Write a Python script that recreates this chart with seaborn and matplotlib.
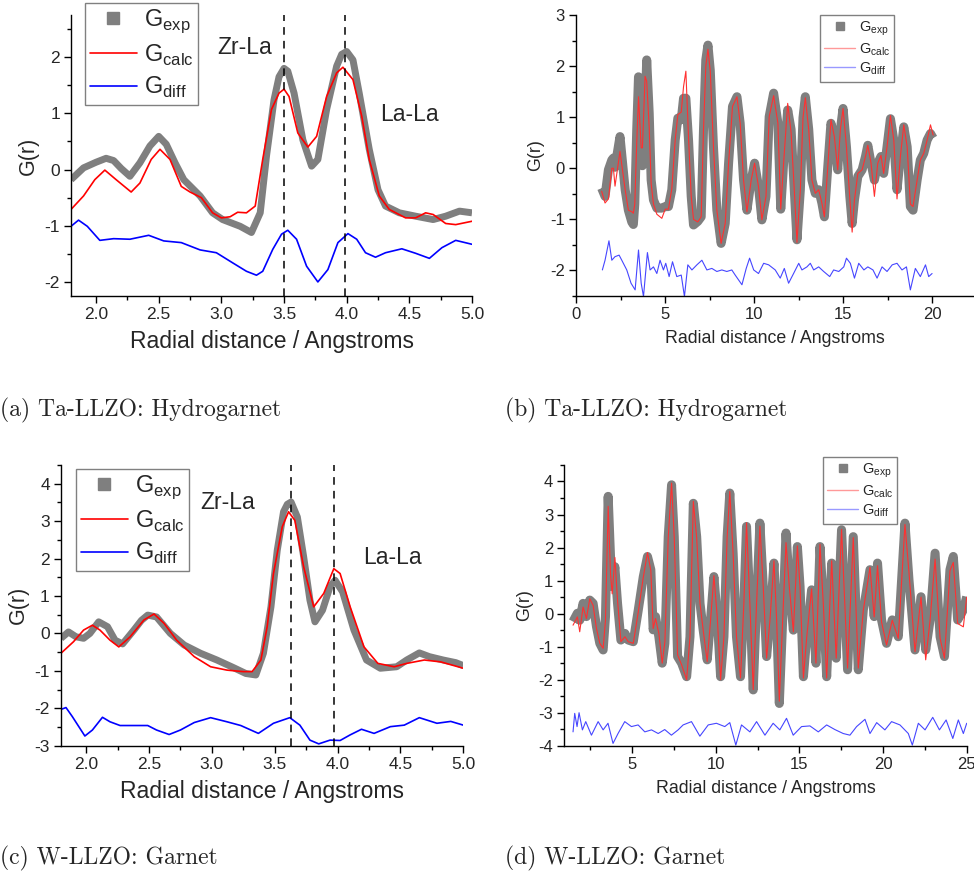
import numpy as np
import pandas as pd
import matplotlib
matplotlib.use("Agg")
import matplotlib.pyplot as plt
from matplotlib.lines import Line2D
from matplotlib.ticker import MultipleLocator
import seaborn as sns

# ---- panel (a): Ta-LLZO hydrogarnet, short range ----
a_exp_r = [1.80, 1.90, 2.00, 2.08, 2.14, 2.20, 2.27, 2.35, 2.43, 2.50, 2.56, 2.63, 2.70, 2.83, 2.93,
           3.01, 3.15, 3.24, 3.31, 3.36, 3.42, 3.46, 3.50, 3.53, 3.58, 3.65, 3.72, 3.77, 3.84, 3.92,
           3.96, 4.00, 4.05, 4.10, 4.18, 4.25, 4.31, 4.42, 4.55, 4.69, 4.79, 4.90, 5.00]
a_exp_g = [-0.18, 0.03, 0.13, 0.20, 0.16, 0.02, -0.12, 0.12, 0.42, 0.59, 0.45, 0.12, -0.18, -0.47, -0.77,
           -0.89, -1.01, -1.12, -0.77, 0.24, 1.24, 1.65, 1.80, 1.75, 1.36, 0.53, 0.06, 0.18, 1.07, 1.84,
           2.05, 2.10, 1.95, 1.36, 0.36, -0.36, -0.65, -0.77, -0.83, -0.89, -0.83, -0.74, -0.77]
a_calc_r = [1.80, 1.90, 1.99, 2.07, 2.16, 2.28, 2.35, 2.44, 2.51, 2.59, 2.68, 2.75, 2.84, 2.93,
            3.00, 3.07, 3.13, 3.20, 3.27, 3.33, 3.40, 3.46, 3.50, 3.54, 3.61, 3.69, 3.76, 3.84,
            3.92, 3.97, 4.05, 4.12, 4.18, 4.26, 4.34, 4.47, 4.55, 4.63, 4.69, 4.79, 4.87, 5.00]
a_calc_g = [-0.71, -0.47, -0.18, -0.01, -0.18, -0.40, -0.24, 0.18, 0.36, 0.18, -0.30, -0.40, -0.50, -0.77,
            -0.86, -0.84, -0.76, -0.77, -0.65, 0.18, 1.07, 1.36, 1.43, 1.30, 0.65, 0.40, 0.59, 1.30,
            1.72, 1.82, 1.60, 0.95, 0.18, -0.47, -0.71, -0.86, -0.86, -0.77, -0.80, -0.96, -0.98, -0.92]
a_diff_r = [1.80, 1.86, 1.93, 2.03, 2.14, 2.27, 2.42, 2.54, 2.68, 2.83, 2.96, 3.09, 3.20, 3.28,
            3.33, 3.41, 3.48, 3.53, 3.60, 3.68, 3.77, 3.85, 3.93, 4.01, 4.08, 4.15, 4.23, 4.31,
            4.44, 4.55, 4.66, 4.76, 4.87, 5.00]
a_diff_g = [-1.01, -0.90, -1.01, -1.26, -1.23, -1.24, -1.17, -1.27, -1.30, -1.43, -1.48, -1.66, -1.81, -1.88,
            -1.81, -1.42, -1.15, -1.08, -1.24, -1.72, -2.00, -1.78, -1.30, -1.14, -1.24, -1.48, -1.56, -1.48,
            -1.41, -1.49, -1.58, -1.39, -1.26, -1.33]

# ---- panel (b): Ta-LLZO hydrogarnet, full range (exp and calc share r) ----
b_r = [1.44, 1.63, 1.82, 2.01, 2.10, 2.19, 2.47, 2.76, 2.94, 3.13, 3.22, 3.30, 3.41, 3.51, 3.66, 3.73,
       3.88, 3.97, 4.11, 4.22, 4.35, 4.54, 4.82, 5.01, 5.19, 5.38, 5.57, 5.72, 5.91, 6.04, 6.17,
       6.32, 6.47, 6.60, 6.84, 7.03, 7.16, 7.29, 7.41, 7.54, 7.72, 7.91, 8.15, 8.38, 8.57, 8.79,
       9.04, 9.22, 9.41, 9.60, 9.84, 10.03, 10.25, 10.44, 10.67, 10.85, 11.10, 11.34, 11.50,
       11.66, 11.89, 12.08, 12.26, 12.41, 12.60, 12.75, 12.88, 13.07, 13.25, 13.44, 13.63, 13.81,
       13.95, 14.13, 14.32, 14.51, 14.70, 14.85, 15.00, 15.19, 15.38, 15.51, 15.64, 15.83, 16.07,
       16.26, 16.39, 16.57, 16.76, 16.95, 17.13, 17.28, 17.47, 17.66, 17.85, 18.03, 18.22, 18.41,
       18.60, 18.78, 18.93, 19.16, 19.34, 19.53, 19.72, 19.91, 20.06]
b_exp = [-0.39, -0.55, -0.03, 0.16, 0.20, 0.02, 0.62, -0.42, -0.82, -1.05, -1.10, -0.70, 0.75, 1.79, 0.88, 0.05,
         1.08, 2.12, 1.08, -0.23, -0.62, -0.78, -0.78, -0.75, -0.75, -0.42, 0.55, 0.98, 0.95, 1.37, 1.37,
         0.55, -0.55, -1.11, -1.04, -0.95, 0.75, 2.12, 2.41, 1.92, 0.42, -0.82, -1.47, -1.08, 0.10, 1.21,
         1.40, 0.88, -0.23, -0.82, -0.23, 0.10, -0.36, -1.01, -0.55, 1.01, 1.47, 0.88, -0.80,
         0.10, 1.14, 0.76, -0.42, -1.40, -0.42, 0.99, 1.40, 0.76, -0.23, -0.49, -0.42, -0.68,
         -0.95, -0.03, 0.88, 0.62, -0.03, 0.76, 1.17, 0.42, -0.55, -1.08, -0.62, -0.16, -0.03,
         0.23, 0.45, 0.10, -0.23, 0.10, 0.23, -0.10, 0.42, 0.97, 0.55, -0.42, 0.23, 0.81,
         0.42, -0.75, -0.82, -0.23, 0.16, 0.29, 0.55, 0.68, 0.59]
b_calc = [-0.45, -0.68, -0.60, 0.00, 0.00, -0.35, 0.33, -0.42, -0.82, -0.85, -0.88, -0.70, 0.50, 1.40, 0.40, 0.40,
          1.80, 1.70, 0.80, -0.30, -0.70, -0.90, -0.98, -0.80, -0.80, -0.40, 0.55, 1.05, 1.10, 1.60, 1.90,
          0.60, -0.55, -1.00, -1.05, -0.95, 0.75, 2.00, 2.33, 1.90, 0.42, -0.82, -1.47, -1.08, 0.10, 1.21,
          1.40, 0.88, -0.23, -0.85, -0.23, 0.10, -0.36, -1.01, -0.55, 1.01, 1.42, 0.88, -0.80,
          0.10, 1.27, 0.70, -0.42, -1.45, -0.42, 0.99, 1.38, 0.76, -0.23, -0.49, -0.42, -0.68,
          -0.95, -0.03, 0.95, 0.62, -0.03, 0.76, 1.17, 0.42, -0.60, -1.25, -0.62, -0.10, -0.03,
          0.23, 0.45, 0.10, -0.55, 0.10, 0.25, -0.10, 0.42, 1.03, 0.55, -0.60, 0.23, 0.85,
          0.42, -0.70, -0.75, -0.23, 0.16, 0.29, 0.55, 0.85, 0.65]
b_diff_r = [1.48, 1.63, 1.85, 2.01, 2.19, 2.42, 2.57, 2.85, 3.09, 3.32, 3.51, 3.66, 3.79, 4.01, 4.16,
            4.35, 4.54, 4.72, 4.91, 5.04, 5.23, 5.42, 5.66, 5.91, 6.09, 6.28, 6.51, 6.79, 7.07, 7.35,
            7.63, 7.91, 8.19, 8.47, 8.75, 8.94, 9.32, 9.56, 9.75, 9.98, 10.25, 10.54, 10.82, 11.19,
            11.47, 11.70, 11.94, 12.22, 12.51, 12.69, 12.97, 13.16, 13.35, 13.63, 13.91, 14.25,
            14.47, 14.76, 15.04, 15.19, 15.41, 15.64, 15.88, 16.17, 16.39, 16.68, 16.91, 17.19,
            17.47, 17.76, 18.03, 18.31, 18.56, 18.78, 19.06, 19.34, 19.63, 19.81, 20.00]
b_diff = [-1.99, -1.80, -1.42, -1.80, -1.73, -1.70, -1.80, -1.99, -2.25, -2.38, -1.60, -2.25, -2.51, -1.65, -1.99,
          -1.93, -2.06, -1.80, -1.99, -1.86, -2.12, -1.83, -2.12, -2.09, -2.51, -1.89, -1.99, -1.89, -1.80, -1.99,
          -1.96, -2.02, -1.99, -2.02, -1.99, -2.09, -2.28, -1.96, -1.76, -1.99, -2.06, -1.86, -1.89, -1.99,
          -2.15, -1.96, -2.25, -2.06, -1.86, -1.99, -1.93, -1.86, -1.99, -1.93, -2.02, -2.12,
          -1.99, -2.02, -1.93, -1.76, -1.86, -2.15, -1.86, -1.99, -1.93, -1.99, -2.15, -1.93,
          -2.02, -1.89, -1.86, -1.99, -1.93, -2.38, -1.96, -2.12, -1.89, -2.12, -2.06]

# ---- panel (c): W-LLZO garnet, short range ----
c_exp_r = [1.80, 1.86, 1.92, 1.98, 2.03, 2.10, 2.17, 2.23, 2.29, 2.38, 2.44, 2.49, 2.56, 2.67, 2.78,
           2.91, 3.04, 3.17, 3.27, 3.35, 3.41, 3.47, 3.52, 3.57, 3.60, 3.63, 3.68, 3.73, 3.78, 3.82,
           3.88, 3.94, 3.98, 4.04, 4.13, 4.23, 4.34, 4.47, 4.55, 4.65, 4.73, 4.84, 4.94, 5.00]
c_exp_g = [-0.13, 0.04, -0.09, -0.13, 0.00, 0.31, 0.18, -0.18, -0.28, 0.09, 0.35, 0.49, 0.44, 0.00, -0.31,
           -0.53, -0.71, -0.91, -1.07, -1.11, -0.53, 0.71, 2.22, 3.25, 3.45, 3.51, 3.11, 2.05, 0.89, 0.31,
           0.62, 1.25, 1.42, 1.11, 0.09, -0.71, -0.93, -0.89, -0.71, -0.52, -0.62, -0.71, -0.78, -0.86]
c_calc_r = [1.80, 1.90, 1.98, 2.05, 2.11, 2.19, 2.26, 2.35, 2.46, 2.54, 2.62, 2.72, 2.86, 2.99,
            3.12, 3.25, 3.32, 3.39, 3.44, 3.49, 3.56, 3.61, 3.66, 3.73, 3.81, 3.89, 3.97, 4.02,
            4.10, 4.21, 4.32, 4.45, 4.55, 4.69, 4.82, 5.00]
c_calc_g = [-0.53, -0.22, 0.09, 0.22, 0.09, -0.18, -0.36, -0.09, 0.36, 0.52, 0.27, -0.18, -0.62, -0.89,
            -0.98, -1.02, -1.02, -0.71, 0.18, 1.60, 2.85, 3.25, 3.02, 1.78, 0.71, 1.07, 1.73, 1.60,
            0.71, -0.36, -0.80, -0.89, -0.80, -0.71, -0.76, -0.93]
c_diff_r = [1.80, 1.84, 1.89, 1.99, 2.05, 2.13, 2.19, 2.27, 2.49, 2.56, 2.66, 2.75, 2.86, 2.99,
            3.12, 3.23, 3.37, 3.49, 3.62, 3.70, 3.78, 3.85, 3.94, 4.02, 4.10, 4.19, 4.29, 4.42,
            4.53, 4.65, 4.79, 4.90, 5.00]
c_diff_g = [-2.03, -1.98, -2.22, -2.74, -2.58, -2.24, -2.36, -2.46, -2.46, -2.58, -2.70, -2.58, -2.38, -2.25,
            -2.36, -2.46, -2.67, -2.40, -2.25, -2.45, -2.85, -2.95, -2.85, -2.86, -2.71, -2.56, -2.67, -2.49,
            -2.45, -2.25, -2.40, -2.35, -2.45]

# ---- panel (d): W-LLZO garnet, full range (exp and calc share r) ----
d_r = [1.47, 1.73, 1.87, 2.07, 2.27, 2.47, 2.67, 2.87, 3.07, 3.27, 3.41, 3.57, 3.71, 3.81, 3.97, 4.13,
       4.33, 4.57, 4.77, 5.07, 5.37, 5.67, 5.92, 6.12, 6.26, 6.40, 6.60, 6.80, 6.96, 7.16, 7.36,
       7.52, 7.72, 7.96, 8.26, 8.46, 8.66, 8.86, 9.06, 9.25, 9.49, 9.69, 9.89, 10.09, 10.29, 10.49,
       10.68, 10.84, 11.04, 11.24, 11.48, 11.68, 11.84, 12.04, 12.24, 12.44, 12.64, 12.84, 13.04,
       13.24, 13.48, 13.64, 13.80, 14.00, 14.20, 14.40, 14.64, 14.88, 15.04, 15.24, 15.44, 15.73,
       15.99, 16.23, 16.43, 16.63, 16.93, 17.20, 17.52, 17.88, 18.22, 18.52, 18.82, 19.22, 19.47,
       19.67, 19.91, 20.21, 20.55, 20.91, 21.31, 21.55, 21.91, 22.27, 22.55, 22.81, 23.11, 23.41,
       23.67, 24.00, 24.20, 24.46, 24.80, 25.00]
d_exp = [-0.24, 0.01, -0.20, 0.31, -0.09, 0.41, 0.31, -0.39, -0.90, -1.10, -0.09, 3.55, 1.73, 0.82, 1.42, 0.31,
         -0.80, -0.60, -0.80, -0.85, 0.11, 1.12, 1.73, 1.33, -0.49, -0.09, -0.70, -1.50, -0.90, 2.33, 3.90,
         2.33, -1.30, -1.50, -1.91, -0.70, 3.34, 2.33, 0.31, -0.50, -1.40, -0.19, 1.12, -0.09, -1.91, -0.70,
         2.33, 3.65, 1.82, -0.70, -1.91, 0.31, 2.64, 0.31, -2.31, 0.31, 2.74, 0.82, -1.30,
         -0.19, 1.53, -0.19, -2.72, -0.19, 2.44, 0.82, -0.50, 2.03, 0.82, -1.91, -0.70, 0.72,
         -1.50, 2.03, 0.31, -1.91, 1.53, -1.35, 2.54, -1.70, 2.33, -1.70, 0.11, 1.33, -0.09,
         1.53, -0.19, -0.90, -0.19, -0.70, 2.74, 1.02, -1.10, 0.51, -1.10, -0.19, 1.83, -0.70,
         -1.30, 1.33, 1.73, -0.19, 0.11, 0.51]
d_calc = [-0.35, -0.10, -0.55, 0.20, -0.15, 0.45, 0.25, -0.45, -0.90, -1.05, -0.20, 3.25, 1.20, 0.60, 1.70, 0.40,
          -0.85, -0.70, -0.85, -0.90, 0.05, 1.10, 1.85, 1.30, -0.45, -0.15, -0.60, -1.50, -0.85, 2.30, 3.95,
          2.30, -1.25, -1.55, -2.00, -0.70, 3.40, 2.30, 0.30, -0.50, -1.45, -0.20, 1.15, -0.10, -2.00, -0.70,
          2.30, 3.70, 1.80, -0.70, -1.95, 0.30, 2.75, 0.30, -2.30, 0.30, 2.65, 0.80, -1.35,
          -0.20, 1.60, -0.20, -2.65, -0.20, 2.15, 0.80, -0.55, 2.05, 0.80, -1.95, -0.70, 0.75,
          -1.50, 2.10, 0.30, -1.95, 1.60, -1.35, 2.55, -1.65, 2.30, -1.65, 0.10, 1.40, -0.10,
          1.45, -0.25, -0.95, -0.20, -0.75, 2.70, 1.25, -1.15, 0.50, -1.40, -0.20, 1.65, -0.75,
          -1.35, 1.30, 1.55, -0.30, -0.40, 0.50]
d_diff_r = [1.47, 1.57, 1.71, 1.83, 2.03, 2.23, 2.57, 2.97, 3.27, 3.56, 3.86, 4.16, 4.56, 4.96, 5.36,
            5.76, 6.16, 6.56, 6.95, 7.35, 7.75, 8.05, 8.55, 9.05, 9.55, 10.04, 10.54, 10.84, 11.20,
            11.54, 12.04, 12.44, 12.94, 13.43, 13.83, 14.23, 14.63, 15.13, 15.63, 16.13, 16.63,
            17.12, 17.62, 18.02, 18.42, 18.92, 19.22, 19.62, 20.11, 20.51, 21.01, 21.51, 21.75,
            22.11, 22.51, 22.97, 23.37, 23.77, 24.17, 24.50, 24.80, 25.00]
d_diff = [-3.58, -3.02, -3.42, -3.00, -3.52, -3.27, -3.68, -3.27, -3.52, -3.32, -3.93, -3.63, -3.27, -3.42, -3.37,
          -3.58, -3.52, -3.63, -3.51, -3.68, -3.52, -3.37, -3.27, -3.71, -3.37, -3.32, -3.42, -3.30, -3.98,
          -3.37, -3.58, -3.27, -3.68, -3.32, -3.52, -3.17, -3.68, -3.42, -3.40, -3.58, -3.37,
          -3.51, -3.63, -3.68, -3.42, -3.20, -3.63, -3.30, -3.52, -3.27, -3.37, -3.63, -3.98,
          -3.32, -3.52, -3.14, -3.52, -3.22, -3.78, -3.22, -3.63, -3.32]

captions = ["(a) Ta-LLZO: Hydrogarnet", "(b) Ta-LLZO: Hydrogarnet",
            "(c) W-LLZO: Garnet", "(d) W-LLZO: Garnet"]
legend_labels = [r"G$_\mathrm{exp}$", r"G$_\mathrm{calc}$", r"G$_\mathrm{diff}$"]
xlabel = "Radial distance / Angstroms"

sns.set_theme(style="ticks")
plt.rcParams["font.family"] = ["Liberation Sans", "DejaVu Sans"]
plt.rcParams["mathtext.fontset"] = "custom"
plt.rcParams["mathtext.rm"] = "Liberation Sans"
plt.rcParams["axes.unicode_minus"] = False
plt.rcParams["axes.edgecolor"] = "black"
plt.rcParams["axes.linewidth"] = 1.0

GRAY = "#7f7f7f"
fig = plt.figure(figsize=(9.74, 8.76), dpi=100)

big_style = dict(lw_exp=5.0, lw_calc=1.2, calc="#ff0000", diff="#0000ff",
                 calc_leg="#ff0000", diff_leg="#0000ff", lab=16.5, tick=12.5, leg=17,
                 hl=2.0, htp=0.3, bp=0.2, ls=0.3, ms=8)
small_style = dict(lw_exp=6.5, lw_calc=0.8, calc="#ff3030", diff="#4646ff",
                   calc_leg="#ff9999", diff_leg="#9999ff", lab=12.8, tick=12, leg=10.5,
                   hl=2.1, htp=0.25, bp=0.3, ls=0.2, ms=6)

panels = [
    dict(pos=[0.0729, 0.6621, 0.4117, 0.3208], xlim=(1.8, 5.0), ylim=(-2.25, 2.75),
         xmaj=0.5, xmin=0.25, st=big_style, leg_anchor=(0.0873, 0.9966), big=True,
         data=(a_exp_r, a_exp_g, a_calc_r, a_calc_g, a_diff_r, a_diff_g),
         vlines=(3.50, 3.99), notes=[("Zr-La", 2.97, 2.18), ("La-La", 4.27, 0.98)]),
    dict(pos=[0.5914, 0.6621, 0.4076, 0.3208], xlim=(0, 22.3), ylim=(-2.5, 3.0),
         xmaj=5, xmin=2.5, st=small_style, leg_anchor=(0.8419, 0.9829), big=False,
         data=(b_r, b_exp, b_r, b_calc, b_diff_r, b_diff),
         vlines=(), notes=[]),
    dict(pos=[0.0626, 0.1487, 0.4131, 0.3205], xlim=(1.8, 5.0), ylim=(-3.0, 4.5),
         xmaj=0.5, xmin=0.25, st=big_style, leg_anchor=(0.0780, 0.4646), big=True,
         data=(c_exp_r, c_exp_g, c_calc_r, c_calc_g, c_diff_r, c_diff_g),
         vlines=(3.633, 3.975), notes=[("Zr-La", 2.91, 3.50), ("La-La", 4.20, 2.03)]),
    dict(pos=[0.5794, 0.1487, 0.4131, 0.3205], xlim=(0.95, 25.0), ylim=(-4.0, 4.5),
         xmaj=5, xmin=2.5, st=small_style, leg_anchor=(0.8450, 0.4783), big=False,
         data=(d_r, d_exp, d_r, d_calc, d_diff_r, d_diff),
         vlines=(), notes=[]),
]

for p in panels:
    st = p["st"]
    ax = fig.add_axes(p["pos"])
    er, eg, cr, cg, dr, dg = p["data"]
    exp_df = pd.DataFrame({"r": er, "G": eg})
    calc_df = pd.DataFrame({"r": cr, "G": cg})
    diff_df = pd.DataFrame({"r": dr, "G": dg})
    sns.lineplot(data=exp_df, x="r", y="G", ax=ax, color=GRAY, lw=st["lw_exp"],
                 sort=False, estimator=None, solid_joinstyle="round", solid_capstyle="butt")
    sns.lineplot(data=calc_df, x="r", y="G", ax=ax, color=st["calc"], lw=st["lw_calc"],
                 sort=False, estimator=None, solid_joinstyle="round")
    sns.lineplot(data=diff_df, x="r", y="G", ax=ax, color=st["diff"], lw=st["lw_calc"],
                 sort=False, estimator=None, solid_joinstyle="round")
    for v in p["vlines"]:
        ax.axvline(v, color="black", ls=(0, (5, 4)), lw=1.1)
    for txt, x, y in p["notes"]:
        ax.text(x, y, txt, fontsize=16.5, ha="left", va="center")

    ax.set_xlim(*p["xlim"])
    ax.set_ylim(*p["ylim"])
    ax.xaxis.set_major_locator(MultipleLocator(p["xmaj"]))
    ax.xaxis.set_minor_locator(MultipleLocator(p["xmin"]))
    ax.yaxis.set_major_locator(MultipleLocator(1))
    ax.yaxis.set_minor_locator(MultipleLocator(0.5))
    if p["big"]:
        ax.xaxis.set_major_formatter(plt.FormatStrFormatter("%.1f"))
    ax.tick_params(which="major", direction="out", length=5, width=1, labelsize=st["tick"],
                   color="black", pad=3)
    ax.tick_params(which="minor", direction="out", length=3, width=1, color="black")
    ax.set_xlabel(xlabel, fontsize=st["lab"], labelpad=6)
    ax.set_ylabel("G(r)", fontsize=st["lab"] - 1 if p["big"] else st["lab"], labelpad=4)
    sns.despine(ax=ax)
    ax.set_facecolor("none")

    handles = [Line2D([], [], marker="s", ls="none", color=GRAY, markersize=st["ms"]),
               Line2D([], [], color=st["calc_leg"], lw=1.2 if p["big"] else 1.0),
               Line2D([], [], color=st["diff_leg"], lw=1.2 if p["big"] else 1.0)]
    leg = ax.legend(handles, legend_labels, loc="upper left", bbox_to_anchor=p["leg_anchor"],
                    bbox_transform=fig.transFigure, fontsize=st["leg"], frameon=True,
                    fancybox=False, edgecolor="#808080", framealpha=1,
                    handlelength=st["hl"], handletextpad=st["htp"], labelspacing=st["ls"],
                    borderpad=st["bp"], borderaxespad=0)
    leg.get_frame().set_linewidth(1.0)

cap_pos = [(0.0, 1 - 410 / 876), (0.518, 1 - 410 / 876),
           (0.0, 1 - 858 / 876), (0.518, 1 - 858 / 876)]
for (x, y), txt in zip(cap_pos, captions):
    fig.text(x, y, txt, fontsize=17, family=["cmr10", "DejaVu Serif"], ha="left", va="center")

fig.savefig("out.png", dpi=100)
